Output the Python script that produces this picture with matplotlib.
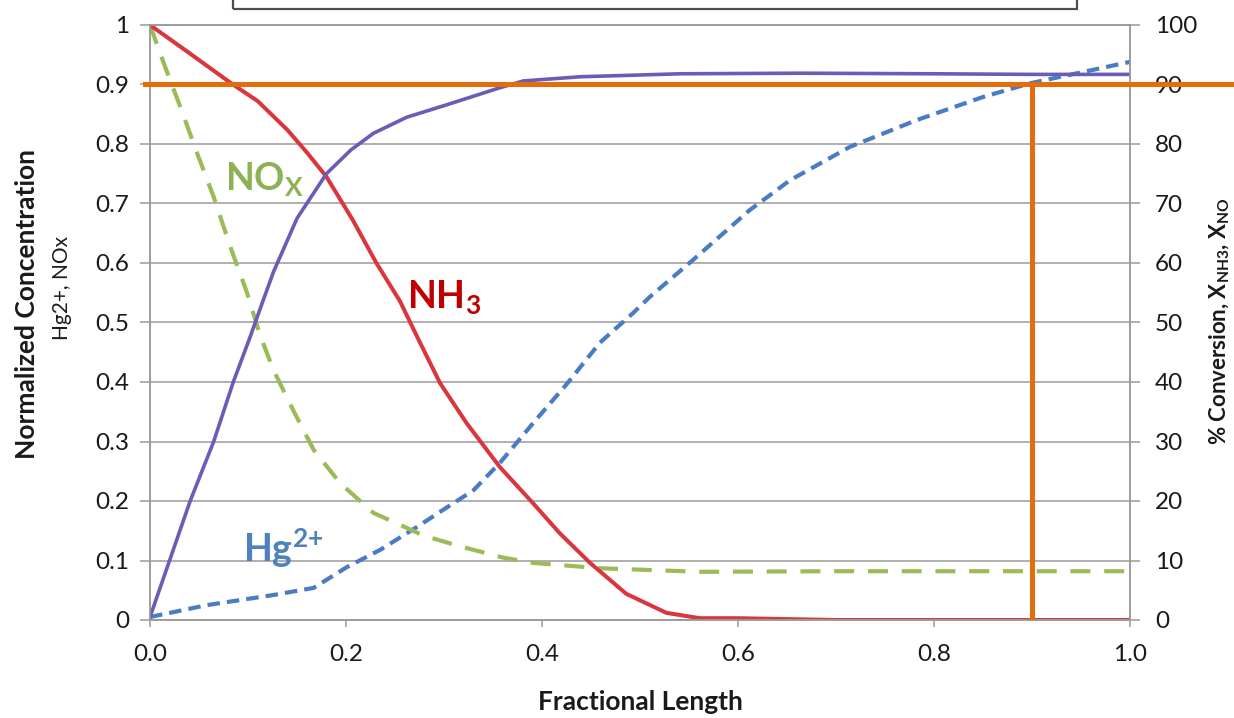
import matplotlib
matplotlib.use('Agg')
import matplotlib.pyplot as plt
from matplotlib.patches import Rectangle

plt.rcParams['font.family'] = ['Lato', 'DejaVu Sans']
plt.rcParams['mathtext.fontset'] = 'custom'
plt.rcParams['mathtext.rm'] = 'Lato'
plt.rcParams['mathtext.bf'] = 'Lato:bold'

# NH3 normalized concentration (left axis)
nh3_x = [0, 0.04, 0.082, 0.11, 0.14, 0.16, 0.18, 0.207, 0.231, 0.255, 0.272, 0.296,
         0.323, 0.357, 0.391, 0.418, 0.449, 0.486, 0.527, 0.561, 0.6, 0.7, 0.8, 0.9, 1.0]
nh3_y = [1.0, 0.953, 0.903, 0.872, 0.824, 0.786, 0.745, 0.672, 0.600, 0.536, 0.478, 0.398,
         0.331, 0.257, 0.196, 0.146, 0.096, 0.044, 0.012, 0.003, 0.003, 0.0, 0.0, 0.0, 0.0]

# NOx normalized concentration (left axis)
nox_x = [0, 0.014, 0.031, 0.048, 0.065, 0.082, 0.099, 0.112, 0.126, 0.146, 0.167, 0.194,
         0.228, 0.255, 0.279, 0.316, 0.36, 0.391, 0.459, 0.561, 0.7, 0.8, 0.9, 1.0]
nox_y = [1.0, 0.936, 0.862, 0.785, 0.711, 0.627, 0.55, 0.48, 0.42, 0.353, 0.286, 0.23,
         0.18, 0.16, 0.142, 0.124, 0.105, 0.096, 0.087, 0.081, 0.082, 0.082, 0.082, 0.082]

# Hg2+ normalized concentration (left axis)
hg_x = [0, 0.058, 0.126, 0.167, 0.201, 0.235, 0.272, 0.299, 0.33, 0.357, 0.391, 0.426,
        0.459, 0.493, 0.51, 0.554, 0.612, 0.653, 0.714, 0.782, 0.85, 0.898, 0.952, 1.0]
hg_y = [0.005, 0.025, 0.042, 0.054, 0.089, 0.118, 0.156, 0.185, 0.218, 0.264, 0.331, 0.398,
        0.466, 0.516, 0.543, 0.605, 0.689, 0.739, 0.795, 0.84, 0.879, 0.902, 0.921, 0.938]

# NO conversion in % (right axis)
conv_x = [0, 0.041, 0.065, 0.085, 0.102, 0.115, 0.126, 0.15, 0.18, 0.205, 0.228, 0.262, 0.303,
          0.354, 0.381, 0.439, 0.541, 0.663, 0.8, 0.9, 1.0]
conv_y = [0.5, 20, 30, 40, 47.5, 53.5, 58.5, 67.5, 75.0, 79.0, 81.8, 84.5, 86.6,
          89.3, 90.6, 91.3, 91.8, 91.9, 91.8, 91.7, 91.7]

# target marker: 90 % conversion at fractional length 0.9
target_x = 0.9
target_pct = 90

left_ticks = [0, 0.1, 0.2, 0.3, 0.4, 0.5, 0.6, 0.7, 0.8, 0.9, 1]
left_labels = ['0', '0.1', '0.2', '0.3', '0.4', '0.5', '0.6', '0.7', '0.8', '0.9', '1']
right_ticks = [0, 10, 20, 30, 40, 50, 60, 70, 80, 90, 100]
x_ticks = [0.0, 0.2, 0.4, 0.6, 0.8, 1.0]

grid_col = '#9a9a9a'
txt_col = '#1a1a1a'

fig = plt.figure(figsize=(12.34, 7.18), dpi=100)
ax = fig.add_axes([150/1234, 1 - 620/718, 980/1234, 595/718])
ax2 = ax.twinx()

ax.set_xlim(0, 1)
ax.set_ylim(0, 1)
ax2.set_ylim(0, 100)

ax.set_yticks(left_ticks)
ax.set_yticklabels(left_labels)
ax.set_xticks(x_ticks)
ax.set_xticklabels(['%.1f' % v for v in x_ticks])
ax2.set_yticks(right_ticks)

ax.grid(axis='y', color=grid_col, lw=1.1)
ax.set_axisbelow(True)
for a in (ax, ax2):
    for s in a.spines.values():
        s.set_color(grid_col)
        s.set_linewidth(1.1)
ax.tick_params(axis='y', length=7, width=1.1, color=grid_col, pad=8, labelsize=17.5, labelcolor=txt_col)
ax.tick_params(axis='x', length=5, width=1.1, color=grid_col, pad=12, labelsize=17.5, labelcolor=txt_col)
ax2.tick_params(axis='y', length=7, width=1.1, color=grid_col, pad=11, labelsize=17.5, labelcolor=txt_col)

ax.plot(hg_x, hg_y, color='#4a7cc4', lw=3.0, dashes=(3.0, 1.7))
ax.plot(nox_x, nox_y, color='#9bbb59', lw=3.0, dashes=(4.8, 3.3))
ax.plot(nh3_x, nh3_y, color='#d9363e', lw=2.9, solid_joinstyle='round')
ax2.plot(conv_x, conv_y, color='#6b5cb8', lw=2.6, solid_joinstyle='round')

# orange 90 % reference lines
ax2.plot([-0.005, 1.2], [target_pct, target_pct], color='#e46c0a', lw=3.6, clip_on=False, zorder=5)
ax2.plot([target_x, target_x], [0, target_pct], color='#e46c0a', lw=3.6, zorder=5)

ax.text(0.0765, 0.723, r'$\mathbf{NO_X}$', color='#8db255', fontsize=27, va='baseline')
ax.text(0.262, 0.524, r'$\mathbf{NH_3}$', color='#c00000', fontsize=27, va='baseline')
ax.text(0.095, 0.097, r'$\mathbf{Hg^{2{+}}}$', color='#4f81bd', fontsize=27, va='baseline')

fig.text(27/1234, 1 - 304/718, 'Normalized Concentration', rotation=90, fontsize=19,
         fontweight='bold', ha='center', va='center', color=txt_col)
fig.text(62/1234, 1 - 288/718, 'Hg2+, NOx', rotation=90, fontsize=15,
         ha='center', va='center', color=txt_col)
fig.text(640/1234, 1 - 702/718, 'Fractional Length', fontsize=19, fontweight='bold',
         ha='center', va='center', color=txt_col)
fig.text(1232/1234, 1 - 321/718, r'% Conversion, X$_{\mathbf{NH3}}$, X$_{\mathbf{NO}}$',
         rotation=90, fontsize=16, fontweight='bold', ha='right', va='center', color=txt_col)

# frame of a box cut off at the top edge
fig.patches.append(Rectangle((233/1234, 1 - 9/718), 844/1234, 0.05, transform=fig.transFigure,
                             fill=False, edgecolor='#4d4d4d', lw=1.6))

fig.savefig('out.png', dpi=100)
